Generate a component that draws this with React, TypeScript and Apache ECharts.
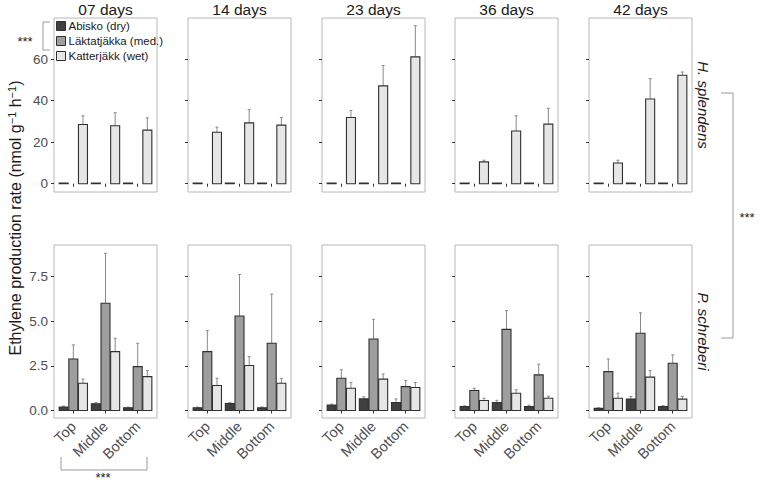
import React, { useEffect, useRef } from "react";
import * as echarts from "echarts";

// Sampling days (facet columns) and positions along the moss shoot
const days = ["07 days", "14 days", "23 days", "36 days", "42 days"];
const positions = ["Top", "Middle", "Bottom"];
const sites = ["Abisko (dry)", "Läktatjäkka (med.)", "Katterjäkk (wet)"];
const species = ["H. splendens", "P. schreberi"];

// H. splendens — mean and standard error per day, ordered Top, Middle, Bottom
const hsAbiskoMean = [
  [0.3, 0.3, 0.3],
  [0.3, 0.3, 0.3],
  [0.3, 0.3, 0.3],
  [0.3, 0.3, 0.3],
  [0.3, 0.3, 0.3],
];
const hsAbiskoSe = [
  [0, 0, 0],
  [0, 0, 0],
  [0, 0, 0],
  [0, 0, 0],
  [0, 0, 0],
];
const hsLaktatMean = [
  [null, null, null],
  [null, null, null],
  [null, null, null],
  [null, null, null],
  [null, null, null],
];
const hsLaktatSe = [
  [null, null, null],
  [null, null, null],
  [null, null, null],
  [null, null, null],
  [null, null, null],
];
const hsKatterMean = [
  [28.5, 27.9, 25.8],
  [24.8, 29.3, 28.2],
  [31.9, 47.1, 61.1],
  [10.5, 25.4, 28.7],
  [10.0, 40.8, 52.2],
];
const hsKatterSe = [
  [4.2, 6.3, 5.9],
  [2.4, 6.5, 3.7],
  [3.4, 9.8, 15.0],
  [0.8, 7.3, 7.6],
  [1.3, 9.8, 1.6],
];

// P. schreberi — mean and standard error per day, ordered Top, Middle, Bottom
const psAbiskoMean = [
  [0.2, 0.38, 0.15],
  [0.15, 0.39, 0.15],
  [0.3, 0.65, 0.45],
  [0.22, 0.45, 0.22],
  [0.12, 0.64, 0.22],
];
const psAbiskoSe = [
  [0.05, 0.06, 0.04],
  [0.04, 0.06, 0.05],
  [0.06, 0.12, 0.2],
  [0.04, 0.12, 0.08],
  [0.03, 0.15, 0.05],
];
const psLaktatMean = [
  [2.89, 6.01, 2.46],
  [3.3, 5.3, 3.77],
  [1.81, 4.01, 1.34],
  [1.12, 4.55, 2.0],
  [2.18, 4.33, 2.65],
];
const psLaktatSe = [
  [0.79, 2.8, 1.31],
  [1.18, 2.33, 2.76],
  [0.47, 1.1, 0.34],
  [0.13, 1.05, 0.6],
  [0.71, 1.15, 0.47],
];
const psKatterMean = [
  [1.53, 3.3, 1.9],
  [1.4, 2.52, 1.53],
  [1.25, 1.76, 1.29],
  [0.56, 0.97, 0.69],
  [0.69, 1.87, 0.64],
];
const psKatterSe = [
  [0.23, 0.75, 0.34],
  [0.41, 0.5, 0.27],
  [0.32, 0.29, 0.28],
  [0.13, 0.19, 0.11],
  [0.28, 0.37, 0.16],
];

// Axis ticks
const hsTicks = [0, 20, 40, 60];
const psTicks = [0, 2.5, 5, 7.5];

const FONT = "Liberation Sans, Arial, Helvetica, sans-serif";
const siteFill = ["#404040", "#9e9e9e", "#e6e6e6"];
const barBorder = "#303030";
const errColor = "#8a8a8a";
const dodge = [-0.3, 0, 0.3];
const barHalf = 0.14;

const panelLeft = [54, 188, 322, 455, 589];
const panelWidth = 103;
const rowTop = [18, 245];
const rowHeight = [174, 173];
const rowRange = [
  [-4.0, 79.8],
  [-0.42, 9.28],
];

const meansBySpecies = [
  [hsAbiskoMean, hsLaktatMean, hsKatterMean],
  [psAbiskoMean, psLaktatMean, psKatterMean],
];
const seBySpecies = [
  [hsAbiskoSe, hsLaktatSe, hsKatterSe],
  [psAbiskoSe, psLaktatSe, psKatterSe],
];

function buildOption() {
  const grid: any[] = [];
  const xAxis: any[] = [];
  const yAxis: any[] = [];
  const series: any[] = [];

  for (let r = 0; r < 2; r++) {
    for (let c = 0; c < days.length; c++) {
      const idx = r * days.length + c;
      grid.push({
        left: panelLeft[c],
        top: rowTop[r],
        width: panelWidth,
        height: rowHeight[r],
        show: true,
        borderColor: "#b8b8b8",
        borderWidth: 1,
        backgroundColor: "transparent",
        containLabel: false,
      });
      xAxis.push({
        type: "value",
        gridIndex: idx,
        min: 0.4,
        max: 3.6,
        axisLine: { show: false },
        splitLine: { show: false },
        axisTick: {
          show: true,
          customValues: [1, 2, 3],
          length: 3,
          lineStyle: { color: "#333333", width: 1 },
        },
        axisLabel: {
          show: r === 1,
          customValues: [1, 2, 3],
          formatter: (v: number) => positions[Math.round(v) - 1] ?? "",
          rotate: 45,
          margin: 6,
          fontSize: 14.5,
          color: "#4d4d4d",
          fontFamily: FONT,
        },
      });
      const ticks = r === 0 ? hsTicks : psTicks;
      yAxis.push({
        type: "value",
        gridIndex: idx,
        min: rowRange[r][0],
        max: rowRange[r][1],
        axisLine: { show: false },
        splitLine: { show: false },
        axisTick: {
          show: true,
          customValues: ticks,
          length: 3,
          lineStyle: { color: "#333333", width: 1 },
        },
        axisLabel: {
          show: c === 0,
          customValues: ticks,
          formatter: (v: number) => (r === 0 ? String(v) : v.toFixed(1)),
          margin: 6,
          fontSize: 13.5,
          color: "#4d4d4d",
          fontFamily: FONT,
        },
      });

      for (let s = 0; s < 3; s++) {
        const means = meansBySpecies[r][s][c];
        const ses = seBySpecies[r][s][c];
        const data: any[] = [];
        for (let p = 0; p < positions.length; p++) {
          if (means[p] == null) continue;
          data.push([p + 1 + dodge[s], means[p], ses[p] ?? 0]);
        }
        series.push({
          type: "custom",
          name: sites[s],
          xAxisIndex: idx,
          yAxisIndex: idx,
          itemStyle: { color: siteFill[s], borderColor: barBorder, borderWidth: 1 },
          encode: { x: 0, y: 1 },
          data,
          renderItem: (params: any, api: any) => {
            const x = api.value(0);
            const m = api.value(1);
            const e = api.value(2);
            const p0 = api.coord([x - barHalf, 0]);
            const p1 = api.coord([x + barHalf, m]);
            const cx = api.coord([x, 0])[0];
            const children: any[] = [];
            if (e > 0) {
              const top = api.coord([x, m + e]);
              children.push({
                type: "line",
                shape: { x1: cx, y1: p1[1], x2: cx, y2: top[1] },
                style: { stroke: errColor, lineWidth: 1 },
              });
              children.push({
                type: "line",
                shape: { x1: cx - 1.5, y1: top[1], x2: cx + 1.5, y2: top[1] },
                style: { stroke: errColor, lineWidth: 1 },
              });
            }
            children.push({
              type: "rect",
              shape: {
                x: p0[0],
                y: p1[1],
                width: p1[0] - p0[0],
                height: Math.max(p0[1] - p1[1], 0.5),
              },
              style: { fill: siteFill[s], stroke: barBorder, lineWidth: 1.1 },
            });
            return { type: "group", children };
          },
        });
      }
    }
  }

  const graphic: any[] = [];
  // Facet titles
  days.forEach((d, c) => {
    graphic.push({
      type: "text",
      x: panelLeft[c] + panelWidth / 2,
      y: 9,
      style: {
        text: d,
        textAlign: "center",
        textVerticalAlign: "middle",
        fontSize: 15.5,
        fontFamily: FONT,
        fill: "#1a1a1a",
      },
    });
  });
  // Species strips on the right
  species.forEach((sp, r) => {
    graphic.push({
      type: "text",
      x: 703,
      y: rowTop[r] + rowHeight[r] / 2,
      rotation: -Math.PI / 2,
      style: {
        text: sp,
        textAlign: "center",
        textVerticalAlign: "middle",
        fontSize: 15,
        fontStyle: "italic",
        fontFamily: FONT,
        fill: "#1a1a1a",
      },
    });
  });
  // Shared y-axis title
  graphic.push({
    type: "text",
    x: 15,
    y: 218,
    rotation: Math.PI / 2,
    style: {
      text: "Ethylene production rate (nmol g{sup|−1} h{sup|−1})",
      textAlign: "center",
      textVerticalAlign: "middle",
      fontSize: 16,
      fontFamily: FONT,
      fill: "#1a1a1a",
      rich: {
        sup: { fontSize: 11, fontFamily: FONT, fill: "#1a1a1a", verticalAlign: "top", lineHeight: 18 },
      },
    },
  });

  const bracketStyle = { stroke: "#9a9a9a", lineWidth: 1, fill: "none" };
  const stars = (x: number, y: number) => ({
    type: "text",
    x,
    y,
    style: {
      text: "***",
      textAlign: "center",
      textVerticalAlign: "middle",
      fontSize: 13,
      fontFamily: FONT,
      fill: "#222222",
    },
  });
  // Species bracket (right)
  graphic.push({
    type: "polyline",
    shape: { points: [[721, 93], [733, 93], [733, 338], [721, 338]] },
    style: bracketStyle,
  });
  graphic.push(stars(747, 217));
  // Site bracket (legend)
  graphic.push({
    type: "polyline",
    shape: { points: [[50, 22], [43, 22], [43, 50], [50, 50]] },
    style: bracketStyle,
  });
  graphic.push(stars(25, 41));
  // Position bracket (bottom)
  graphic.push({
    type: "polyline",
    shape: { points: [[61, 457], [61, 470], [147, 470], [147, 457]] },
    style: bracketStyle,
  });
  graphic.push(stars(103, 477));

  return {
    animation: false,
    backgroundColor: "#ffffff",
    grid,
    xAxis,
    yAxis,
    series,
    legend: {
      orient: "vertical",
      left: 56,
      top: 20,
      padding: 0,
      itemWidth: 9,
      itemHeight: 9,
      itemGap: 3,
      selectedMode: false,
      textStyle: { fontSize: 11.5, fontFamily: FONT, color: "#1a1a1a", padding: [0, 0, 0, -2] },
      data: sites.map((name, i) => ({
        name,
        icon: "rect",
        itemStyle: { color: siteFill[i], borderColor: barBorder, borderWidth: 1 },
      })),
    },
    graphic,
  };
}

export default function App() {
  const ref = useRef<HTMLDivElement>(null);
  useEffect(() => {
    if (!ref.current) return;
    const chart = echarts.init(ref.current, undefined, { renderer: "svg" });
    chart.setOption(buildOption() as any);
    return () => chart.dispose();
  }, []);
  return (
    <div
      ref={ref}
      style={{ position: "absolute", left: 0, top: 0, width: 764, height: 485 }}
    />
  );
}
